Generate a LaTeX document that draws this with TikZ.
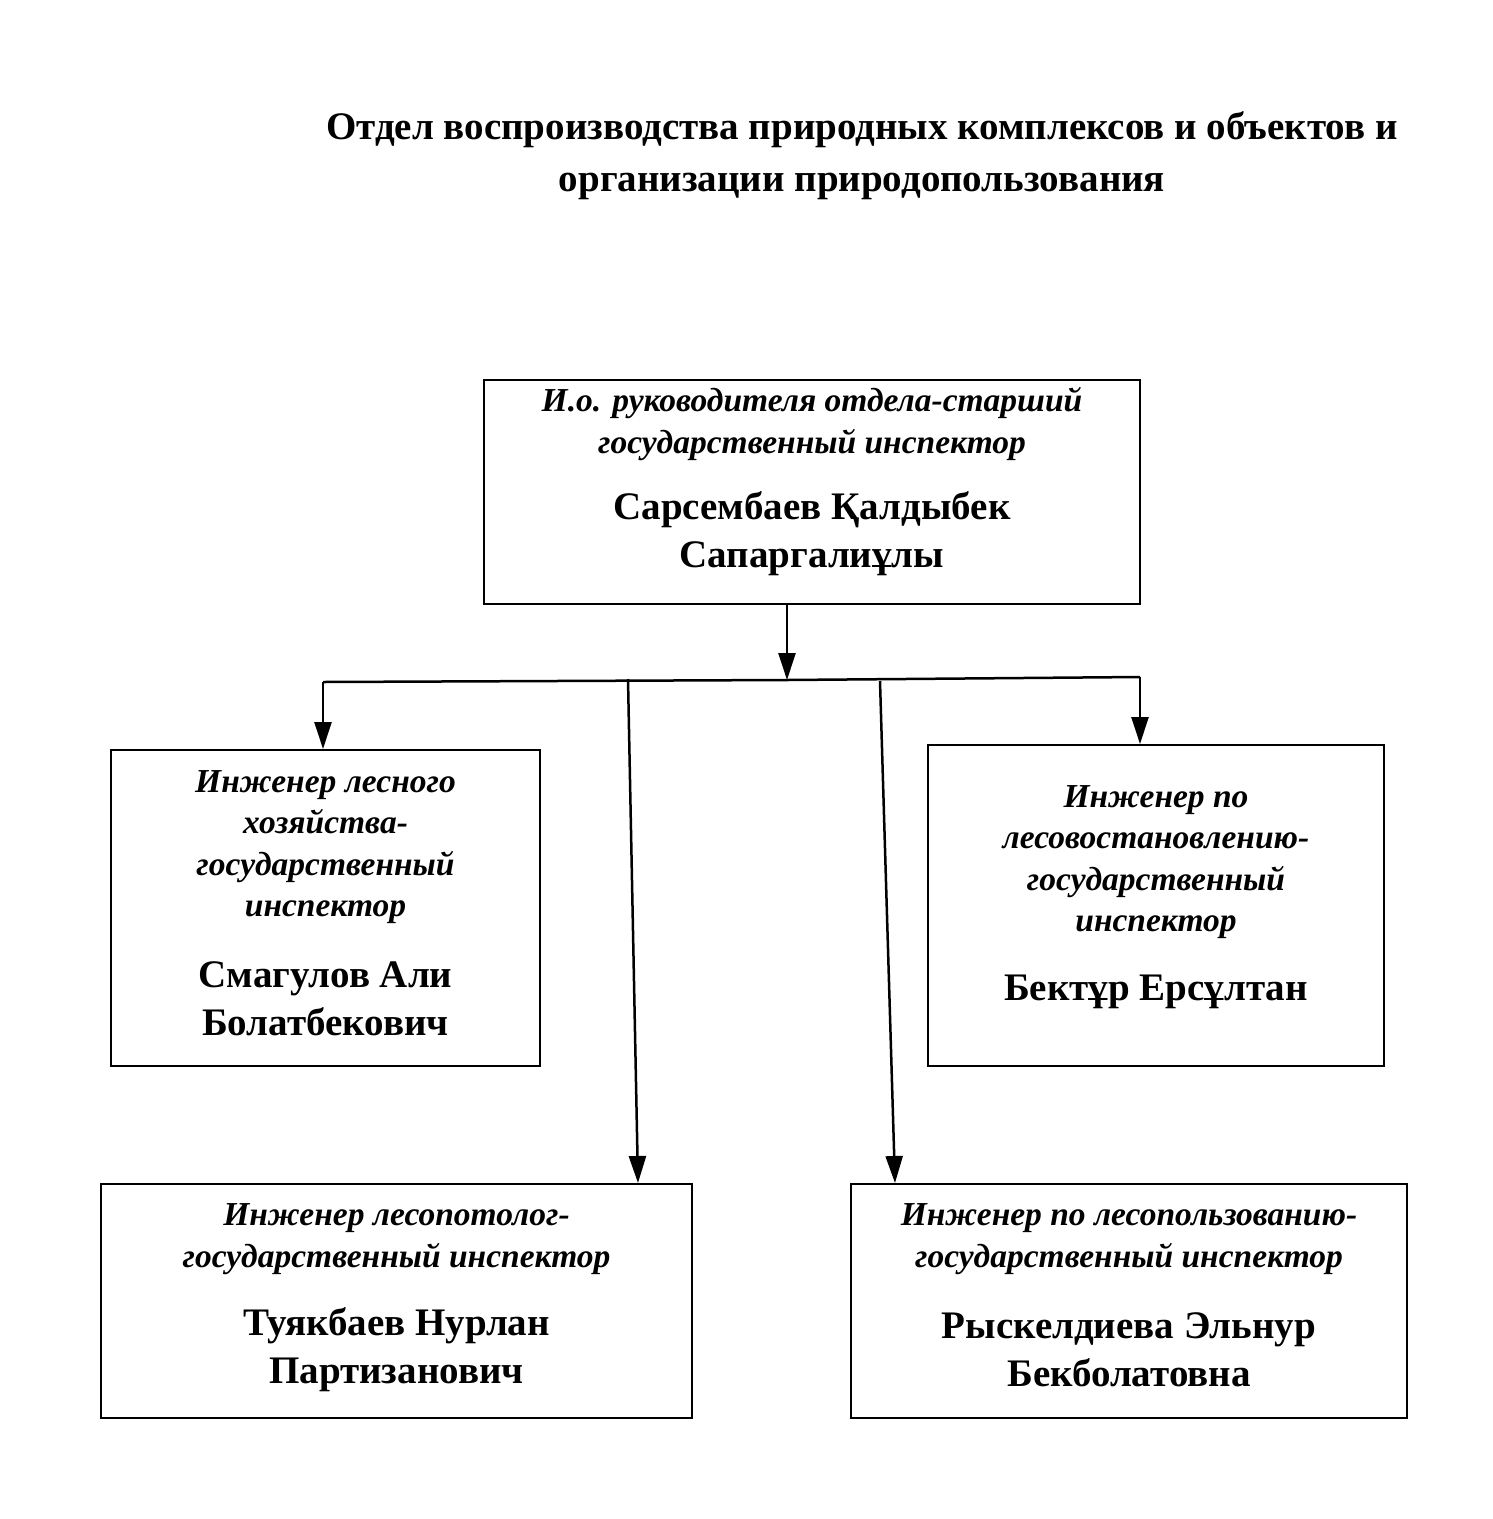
\documentclass[tikz,border=0pt]{standalone}
\usepackage{fontspec}
\setmainfont{Liberation Serif}
\usetikzlibrary{arrows.meta}
\tikzset{
  box/.style={draw, line width=2pt, inner sep=0pt},
  role/.style={align=center, inner sep=0pt, font=\fontsize{33.5}{41.5}\selectfont\bfseries\itshape},
  pname/.style={align=center, inner sep=0pt, font=\fontsize{39}{48}\selectfont\bfseries},
  ttl/.style={align=center, inner sep=0pt, font=\fontsize{39}{52}\selectfont\bfseries},
  conn/.style={line width=2.5pt},
  arr/.style={conn, -{Triangle[length=27pt,width=17pt]}}
}
\begin{document}
\begin{tikzpicture}[x=1pt,y=-1pt]
\useasboundingbox (0,0) rectangle (1493,1519);
\fill[white] (0,0) rectangle (1493,1519);
% title
\node[ttl] (title) at (862,156) {Отдел воспроизводства природных комплексов и объектов и\\организации природопользования};
% boxes
\node[box, minimum width=656pt, minimum height=224pt] (top) at (812,492) {};
\node[box, minimum width=429pt, minimum height=316pt] (lm) at (325.5,908) {};
\node[box, minimum width=456pt, minimum height=321pt] (rm) at (1156,905.5) {};
\node[box, minimum width=591pt, minimum height=234pt] (lb) at (396.5,1301) {};
\node[box, minimum width=556pt, minimum height=234pt] (rb) at (1129,1301) {};
% texts
\node[role] (topR) at (812,424) {И.о. руководителя отдела-старший\\государственный инспектор};
\node[pname] (topN) at (812,534) {Сарсембаев Қалдыбек\\Сапаргалиұлы};
\node[role] (lmR) at (325.5,847) {Инженер лесного\\хозяйства-\\государственный\\инспектор};
\node[pname] (lmN) at (325.5,999) {Смагулов Али\\Болатбекович};
\node[role] (rmR) at (1156,862) {Инженер по\\лесовостановлению-\\государственный\\инспектор};
\node[pname] (rmN) at (1156,992) {Бектұр Ерсұлтан};
\node[role] (lbR) at (396.5,1239) {Инженер лесопотолог-\\государственный инспектор};
\node[pname] (lbN) at (396.5,1350) {Туякбаев Нурлан\\Партизанович};
\node[role] (rbR) at (1129,1239) {Инженер по лесопользованию-\\государственный инспектор};
\node[pname] (rbN) at (1129,1350) {Рыскелдиева Эльнур\\Бекболатовна};
% connectors
\coordinate (hub) at (787,680);
\coordinate (hl) at (323,682);
\coordinate (hr) at (1140,677);
\coordinate (h1) at (628,679);
\coordinate (h2) at (880,681);
\draw[arr] (top.south -| hub) -- (hub);
\draw[conn] (hl) -- (hub) -- (hr);
\draw[arr] (hl) -- (hl |- lm.north);
\draw[arr] (hr) -- (hr |- rm.north);
\draw[arr] (h1) -- (638,0 |- lb.north);
\draw[arr] (h2) -- (895,0 |- rb.north);
\end{tikzpicture}
\end{document}
